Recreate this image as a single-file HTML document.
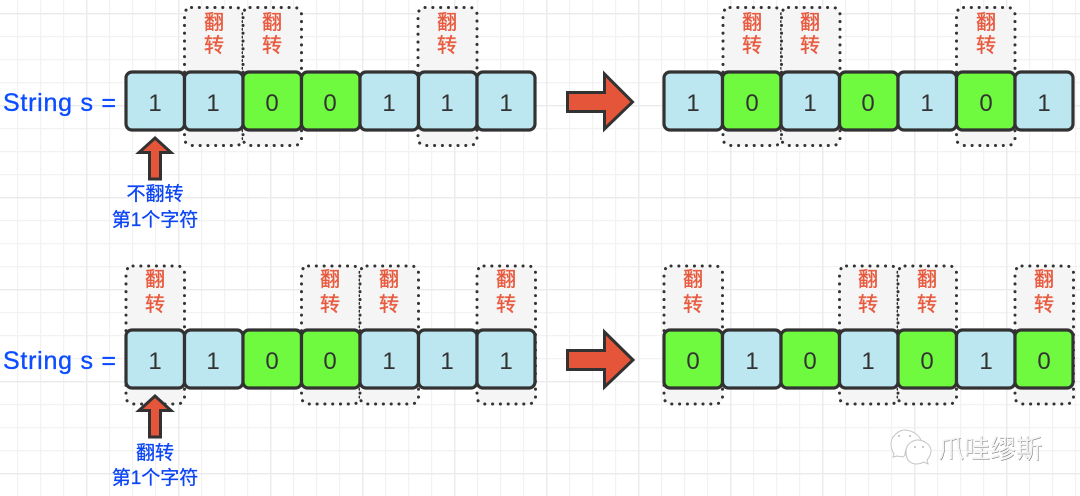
<!DOCTYPE html>
<html><head><meta charset="utf-8">
<style>
html,body{margin:0;padding:0;background:#fff;width:1080px;height:496px;overflow:hidden}
svg{display:block}
text{font-family:"Liberation Sans","Noto Sans CJK SC",sans-serif}
.c{stroke:#323232;stroke-width:3.2}
.b{fill:#bce7f0}.g{fill:#6ff93f}
.n{font-size:24px;fill:#333;text-anchor:middle}
.r{font-size:20px;fill:#e85a3f;text-anchor:middle;stroke:#e85a3f;stroke-width:.35}
.l{font-size:19px;fill:#0b45f5;text-anchor:middle;stroke:#0b45f5;stroke-width:.3}
.s{font-size:25px;fill:#0b4dff;stroke:#0b4dff;stroke-width:.35}
.d{fill:#f5f5f5;stroke:#333;stroke-width:3;stroke-linecap:round;stroke-dasharray:0.1 7.7}
.a{fill:#e5553a;stroke:#323232;stroke-width:3;stroke-linejoin:miter}
</style></head><body>
<svg width="1080" height="496" viewBox="0 0 1080 496" xmlns="http://www.w3.org/2000/svg">
<defs>
<pattern id="m" x="17" y="13" width="23" height="23" patternUnits="userSpaceOnUse"><path d="M.5 0V23M0 .5H23" stroke="#f2f2f2" stroke-width="1.4" fill="none"/></pattern>
<pattern id="t" x="86" y="13" width="92" height="92" patternUnits="userSpaceOnUse"><path d="M.5 0V92M0 .5H92" stroke="#ebebeb" stroke-width="1.8" fill="none"/></pattern>
<filter id="e"><feOffset dx="0.6" dy="0.6" in="SourceAlpha" result="o"/><feFlood flood-color="#707070"/><feComposite in2="o" operator="in"/><feMerge><feMergeNode/><feMergeNode in="SourceGraphic"/></feMerge></filter>
</defs>
<rect width="1080" height="496" fill="#fff"/>
<rect width="1080" height="496" fill="url(#m)"/>
<rect width="1080" height="496" fill="url(#t)"/>

<!-- dotted boxes row 1 -->
<rect class="d" x="184.5" y="7.5" width="58.5" height="138" rx="7"/>
<rect class="d" x="243" y="7.5" width="58.5" height="138" rx="7"/>
<rect class="d" x="418" y="7.5" width="59" height="138" rx="7"/>
<rect class="d" x="723" y="7.5" width="58.5" height="138" rx="7"/>
<rect class="d" x="781.5" y="7.5" width="58.5" height="138" rx="7"/>
<rect class="d" x="956.5" y="7.5" width="58.5" height="138" rx="7"/>
<!-- dotted boxes row 2 -->
<rect class="d" x="126" y="266" width="58.5" height="138" rx="7"/>
<rect class="d" x="301.5" y="266" width="58.5" height="138" rx="7"/>
<rect class="d" x="360" y="266" width="58.5" height="138" rx="7"/>
<rect class="d" x="477" y="266" width="58.5" height="138" rx="7"/>
<rect class="d" x="664" y="266" width="58.5" height="138" rx="7"/>
<rect class="d" x="839.5" y="266" width="58.5" height="138" rx="7"/>
<rect class="d" x="898" y="266" width="58.5" height="138" rx="7"/>
<rect class="d" x="1015" y="266" width="58.5" height="138" rx="7"/>

<!-- cells row 1 left -->
<rect class="c b" x="126" y="72" width="58.5" height="58" rx="6"/>
<rect class="c b" x="184.5" y="72" width="58.5" height="58" rx="6"/>
<rect class="c g" x="243" y="72" width="58.5" height="58" rx="6"/>
<rect class="c g" x="301.5" y="72" width="58.5" height="58" rx="6"/>
<rect class="c b" x="360" y="72" width="58.5" height="58" rx="6"/>
<rect class="c b" x="418.5" y="72" width="58.5" height="58" rx="6"/>
<rect class="c b" x="477" y="72" width="58" height="58" rx="6"/>
<!-- cells row 1 right -->
<rect class="c b" x="664" y="72" width="58.5" height="58" rx="6"/>
<rect class="c g" x="722.5" y="72" width="58.5" height="58" rx="6"/>
<rect class="c b" x="781" y="72" width="58.5" height="58" rx="6"/>
<rect class="c g" x="839.5" y="72" width="58.5" height="58" rx="6"/>
<rect class="c b" x="898" y="72" width="58.5" height="58" rx="6"/>
<rect class="c g" x="956.5" y="72" width="58.5" height="58" rx="6"/>
<rect class="c b" x="1015" y="72" width="58" height="58" rx="6"/>
<!-- cells row 2 left -->
<rect class="c b" x="126" y="330" width="58.5" height="58" rx="6"/>
<rect class="c b" x="184.5" y="330" width="58.5" height="58" rx="6"/>
<rect class="c g" x="243" y="330" width="58.5" height="58" rx="6"/>
<rect class="c g" x="301.5" y="330" width="58.5" height="58" rx="6"/>
<rect class="c b" x="360" y="330" width="58.5" height="58" rx="6"/>
<rect class="c b" x="418.5" y="330" width="58.5" height="58" rx="6"/>
<rect class="c b" x="477" y="330" width="58" height="58" rx="6"/>
<!-- cells row 2 right -->
<rect class="c g" x="664" y="330" width="58.5" height="58" rx="6"/>
<rect class="c b" x="722.5" y="330" width="58.5" height="58" rx="6"/>
<rect class="c g" x="781" y="330" width="58.5" height="58" rx="6"/>
<rect class="c b" x="839.5" y="330" width="58.5" height="58" rx="6"/>
<rect class="c g" x="898" y="330" width="58.5" height="58" rx="6"/>
<rect class="c b" x="956.5" y="330" width="58.5" height="58" rx="6"/>
<rect class="c g" x="1015" y="330" width="58" height="58" rx="6"/>

<!-- digits -->
<text class="n" x="155" y="111">1</text><text class="n" x="213" y="111">1</text><text class="n" x="272" y="111">0</text><text class="n" x="330" y="111">0</text><text class="n" x="389" y="111">1</text><text class="n" x="447" y="111">1</text><text class="n" x="506" y="111">1</text>
<text class="n" x="693" y="111">1</text><text class="n" x="752" y="111">0</text><text class="n" x="810" y="111">1</text><text class="n" x="868" y="111">0</text><text class="n" x="927" y="111">1</text><text class="n" x="986" y="111">0</text><text class="n" x="1044" y="111">1</text>
<text class="n" x="155" y="369">1</text><text class="n" x="213" y="369">1</text><text class="n" x="272" y="369">0</text><text class="n" x="330" y="369">0</text><text class="n" x="389" y="369">1</text><text class="n" x="447" y="369">1</text><text class="n" x="506" y="369">1</text>
<text class="n" x="693" y="369">0</text><text class="n" x="752" y="369">1</text><text class="n" x="810" y="369">0</text><text class="n" x="868" y="369">1</text><text class="n" x="927" y="369">0</text><text class="n" x="986" y="369">1</text><text class="n" x="1044" y="369">0</text>

<!-- flip labels -->
<text class="r" x="214" y="29">翻</text><text class="r" x="214" y="52">转</text>
<text class="r" x="272" y="29">翻</text><text class="r" x="272" y="52">转</text>
<text class="r" x="447" y="29">翻</text><text class="r" x="447" y="52">转</text>
<text class="r" x="752" y="29">翻</text><text class="r" x="752" y="52">转</text>
<text class="r" x="810" y="29">翻</text><text class="r" x="810" y="52">转</text>
<text class="r" x="986" y="29">翻</text><text class="r" x="986" y="52">转</text>
<text class="r" x="155" y="286">翻</text><text class="r" x="155" y="311">转</text>
<text class="r" x="330" y="286">翻</text><text class="r" x="330" y="311">转</text>
<text class="r" x="389" y="286">翻</text><text class="r" x="389" y="311">转</text>
<text class="r" x="506" y="286">翻</text><text class="r" x="506" y="311">转</text>
<text class="r" x="693" y="286">翻</text><text class="r" x="693" y="311">转</text>
<text class="r" x="868" y="286">翻</text><text class="r" x="868" y="311">转</text>
<text class="r" x="927" y="286">翻</text><text class="r" x="927" y="311">转</text>
<text class="r" x="1044" y="286">翻</text><text class="r" x="1044" y="311">转</text>

<!-- String labels -->
<text class="s" x="3" y="111" textLength="113" lengthAdjust="spacing">String s =</text>
<text class="s" x="3" y="369" textLength="113" lengthAdjust="spacing">String s =</text>

<!-- big arrows -->
<polygon class="a" points="567.5,92.5 604.5,92.5 604.5,74 632.5,102 604.5,129 604.5,111.5 567.5,111.5"/>
<polygon class="a" points="567.5,350.5 604.5,350.5 604.5,332 633,360 604.5,387 604.5,369.5 567.5,369.5"/>
<!-- up arrows -->
<polygon class="a" points="155,138 171,152.5 160.5,152.5 160.5,179 149.5,179 149.5,152.5 139,152.5"/>
<polygon class="a" points="155,396 171,410.5 160.5,410.5 160.5,437 149.5,437 149.5,410.5 139,410.5"/>

<!-- captions -->
<text class="l" x="155" y="200">不翻转</text>
<text class="l" x="155" y="226">第1个字符</text>
<text class="l" x="155" y="459">翻转</text>
<text class="l" x="155" y="484">第1个字符</text>

<!-- watermark -->
<g fill="#fff" stroke="#c4c4c4" stroke-width="1">
<path d="M891 444c0-8 8-14 14-14s15 5 16 11l-8 2c-6 2-8 6-8 12l-2 2-6-1-4 1 1-3c-2-3-3-6-3-10z"/>
<path d="M906 451c0-7 7-11 12-11s13 4 13 11c0 3-2 7-4 9l1 4-4-2c-6 3-11 2-14 0-3-2-4-6-4-11z"/>
</g>
<g fill="#bbb"><circle cx="899" cy="436" r="1"/><circle cx="910" cy="436" r="1"/><circle cx="915" cy="447" r="1"/><circle cx="923" cy="447" r="1"/></g>
<text x="938" y="458" font-size="26" fill="#f4f4f4" filter="url(#e)">爪哇缪斯</text>
</svg>
</body></html>
